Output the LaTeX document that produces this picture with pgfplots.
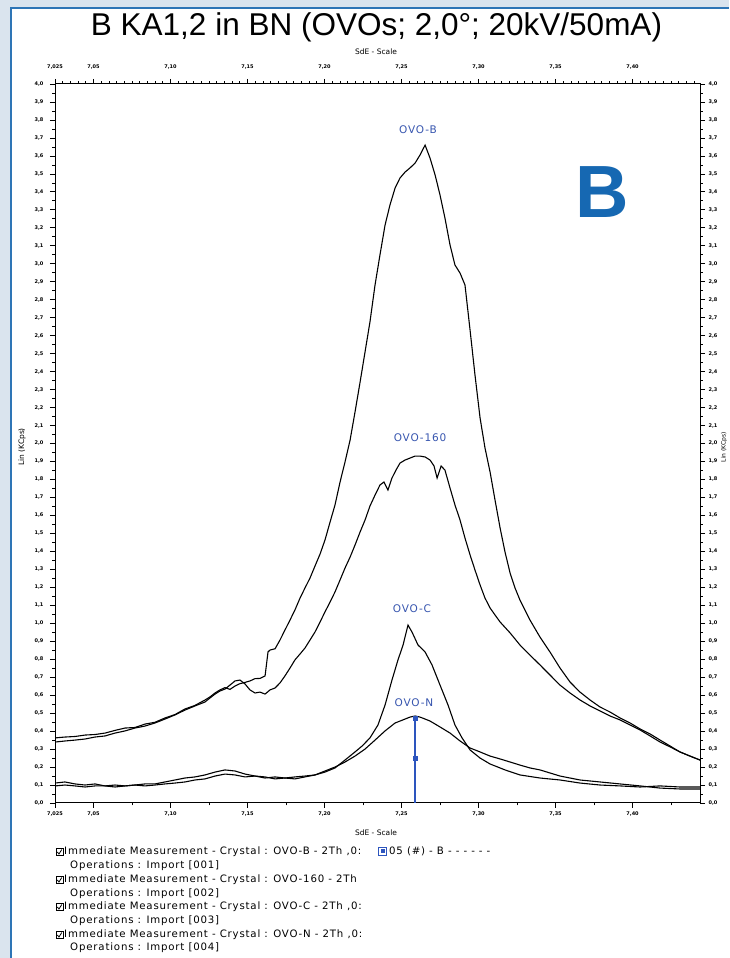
\documentclass[border=0pt]{standalone}
\usepackage{fontspec}
\setmainfont{DejaVu Sans}
\newfontfamily\lib{Liberation Sans}
\newfontfamily\legfont[LetterSpace=8]{DejaVu Sans}
\newfontfamily\lblfont[LetterSpace=8]{DejaVu Sans}
\usepackage{pgfplots}
\pgfplotsset{compat=1.18}
\definecolor{frameblue}{RGB}{46,117,182}
\definecolor{framelight}{RGB}{218,228,238}
\definecolor{bigB}{RGB}{22,104,178}
\definecolor{lblblue}{RGB}{55,85,175}
\definecolor{stickblue}{RGB}{45,85,190}
\newcommand{\tlf}{\fontsize{5}{5.5}\selectfont\bfseries}

\pgfplotstableread{
x y
7.0250 0.362
7.0315 0.367
7.0380 0.370
7.0445 0.378
7.0510 0.381
7.0575 0.389
7.0640 0.404
7.0705 0.417
7.0769 0.420
7.0834 0.439
7.0899 0.449
7.0964 0.473
7.1029 0.492
7.1094 0.523
7.1159 0.543
7.1224 0.573
7.1256 0.590
7.1289 0.612
7.1321 0.629
7.1354 0.642
7.1386 0.632
7.1419 0.651
7.1451 0.664
7.1484 0.671
7.1516 0.679
7.1549 0.692
7.1581 0.693
7.1614 0.707
7.1633 0.840
7.1646 0.851
7.1679 0.858
7.1711 0.907
7.1743 0.962
7.1776 1.018
7.1808 1.074
7.1841 1.140
7.1873 1.196
7.1906 1.252
7.1938 1.318
7.1971 1.385
7.2003 1.463
7.2036 1.563
7.2068 1.658
7.2101 1.786
7.2133 1.897
7.2166 2.019
7.2198 2.175
7.2231 2.342
7.2263 2.509
7.2295 2.676
7.2328 2.882
7.2360 3.049
7.2393 3.215
7.2425 3.327
7.2458 3.421
7.2490 3.477
7.2523 3.510
7.2555 3.533
7.2588 3.560
7.2620 3.605
7.2653 3.660
7.2685 3.588
7.2718 3.494
7.2750 3.382
7.2782 3.254
7.2815 3.104
7.2847 2.993
7.2880 2.948
7.2912 2.882
7.2945 2.631
7.2977 2.381
7.3010 2.142
7.3042 1.975
7.3075 1.841
7.3107 1.686
7.3140 1.530
7.3172 1.396
7.3205 1.279
7.3237 1.196
7.3269 1.129
7.3334 1.018
7.3399 0.923
7.3464 0.840
7.3529 0.751
7.3594 0.673
7.3659 0.617
7.3724 0.573
7.3789 0.534
7.3854 0.506
7.3919 0.473
7.3984 0.445
7.4049 0.412
7.4114 0.384
7.4179 0.350
7.4244 0.317
7.4308 0.284
7.4373 0.261
7.4438 0.239
}\ovoB

\pgfplotstableread{
x y
7.0250 0.339
7.0315 0.345
7.0380 0.350
7.0445 0.356
7.0510 0.367
7.0575 0.373
7.0640 0.389
7.0705 0.401
7.0769 0.417
7.0834 0.428
7.0899 0.445
7.0964 0.467
7.1029 0.490
7.1094 0.517
7.1159 0.540
7.1224 0.562
7.1256 0.584
7.1289 0.606
7.1321 0.623
7.1354 0.634
7.1386 0.656
7.1419 0.679
7.1451 0.684
7.1484 0.662
7.1516 0.629
7.1549 0.612
7.1581 0.617
7.1614 0.606
7.1646 0.629
7.1679 0.640
7.1711 0.668
7.1743 0.707
7.1776 0.751
7.1808 0.796
7.1841 0.829
7.1873 0.862
7.1906 0.907
7.1938 0.951
7.1971 1.007
7.2003 1.063
7.2036 1.118
7.2068 1.174
7.2101 1.241
7.2133 1.307
7.2166 1.368
7.2198 1.435
7.2231 1.508
7.2263 1.574
7.2295 1.652
7.2328 1.713
7.2360 1.769
7.2386 1.786
7.2412 1.741
7.2438 1.808
7.2464 1.852
7.2490 1.891
7.2523 1.908
7.2555 1.919
7.2588 1.930
7.2620 1.930
7.2653 1.925
7.2685 1.908
7.2711 1.875
7.2731 1.808
7.2757 1.875
7.2782 1.852
7.2815 1.752
7.2847 1.658
7.2880 1.574
7.2912 1.474
7.2945 1.380
7.2977 1.296
7.3010 1.213
7.3042 1.140
7.3075 1.085
7.3107 1.046
7.3140 1.007
7.3205 0.946
7.3269 0.879
7.3334 0.823
7.3399 0.768
7.3464 0.712
7.3529 0.656
7.3594 0.612
7.3659 0.573
7.3724 0.540
7.3789 0.512
7.3854 0.484
7.3919 0.462
7.3984 0.434
7.4049 0.406
7.4114 0.373
7.4179 0.339
7.4244 0.312
7.4308 0.284
7.4373 0.261
7.4438 0.239
}\ovoCLX

\pgfplotstableread{
x y
7.0250 0.111
7.0315 0.117
7.0380 0.106
7.0445 0.100
7.0510 0.106
7.0575 0.095
7.0640 0.100
7.0705 0.095
7.0769 0.100
7.0834 0.095
7.0899 0.100
7.0964 0.106
7.1029 0.111
7.1094 0.117
7.1159 0.128
7.1224 0.134
7.1289 0.150
7.1354 0.161
7.1419 0.156
7.1484 0.145
7.1549 0.150
7.1614 0.139
7.1679 0.145
7.1743 0.139
7.1808 0.145
7.1873 0.150
7.1938 0.156
7.2003 0.172
7.2068 0.195
7.2133 0.239
7.2198 0.284
7.2244 0.317
7.2295 0.362
7.2347 0.434
7.2393 0.545
7.2438 0.684
7.2477 0.796
7.2510 0.879
7.2542 0.990
7.2568 0.951
7.2607 0.879
7.2653 0.840
7.2698 0.768
7.2750 0.656
7.2802 0.545
7.2847 0.434
7.2893 0.362
7.2945 0.295
7.3010 0.250
7.3075 0.217
7.3172 0.184
7.3269 0.156
7.3399 0.139
7.3529 0.128
7.3659 0.111
7.3789 0.100
7.3919 0.095
7.4049 0.089
7.4179 0.095
7.4308 0.089
7.4438 0.089
}\ovoC

\pgfplotstableread{
x y
7.0250 0.095
7.0315 0.100
7.0380 0.095
7.0445 0.089
7.0510 0.095
7.0575 0.095
7.0640 0.089
7.0705 0.095
7.0769 0.100
7.0834 0.106
7.0899 0.106
7.0964 0.117
7.1029 0.128
7.1094 0.139
7.1159 0.145
7.1224 0.156
7.1289 0.172
7.1354 0.184
7.1419 0.178
7.1484 0.161
7.1549 0.150
7.1614 0.145
7.1679 0.134
7.1743 0.139
7.1808 0.134
7.1873 0.145
7.1938 0.156
7.2003 0.178
7.2068 0.200
7.2133 0.228
7.2198 0.261
7.2263 0.300
7.2328 0.350
7.2393 0.401
7.2458 0.445
7.2523 0.467
7.2555 0.478
7.2588 0.484
7.2620 0.478
7.2653 0.467
7.2685 0.456
7.2750 0.423
7.2815 0.389
7.2880 0.345
7.2945 0.306
7.3010 0.284
7.3075 0.261
7.3140 0.245
7.3205 0.228
7.3269 0.211
7.3334 0.195
7.3399 0.184
7.3464 0.167
7.3529 0.150
7.3594 0.139
7.3659 0.128
7.3789 0.117
7.3919 0.106
7.4049 0.095
7.4179 0.083
7.4308 0.078
7.4438 0.078
}\ovoN

\begin{document}
\begin{tikzpicture}
\useasboundingbox (0pt,0pt) rectangle (729pt,958pt);
\fill[white] (0pt,0pt) rectangle (729pt,958pt);
\fill[framelight] (0pt,0pt) rectangle (9.5pt,958pt);
\fill[framelight] (0pt,951pt) rectangle (729pt,958pt);
\fill[frameblue] (9.5pt,0pt) rectangle (11.5pt,951pt);
\fill[frameblue] (9.5pt,949pt) rectangle (729pt,951pt);

% top/right axis (ticks and labels only)
\begin{axis}[
  at={(55pt,155pt)}, anchor=south west, scale only axis,
  width=645pt, height=719pt,
  xmin=7.025, xmax=7.4438, ymin=0, ymax=4,
  axis line style={line width=1pt},
  xtick pos=right, ytick pos=right,
  xticklabel pos=right, yticklabel pos=right,
  tick align=outside,
  major tick length=5pt, minor tick length=2.5pt,
  tick style={black, line width=0.7pt},
  xtick={7.025,7.05,7.10,7.15,7.20,7.25,7.30,7.35,7.40},
  xticklabels={{7,025},{7,05},{7,10},{7,15},{7,20},{7,25},{7,30},{7,35},{7,40}},
  minor xtick={7.030,7.035,...,7.4430},
  ytick={0,0.1,...,4.05},
  minor y tick num=1,
  ticklabel style={font=\tlf},
  xticklabel style={yshift=6pt},
  yticklabel style={/pgf/number format/.cd, use comma, fixed, fixed zerofill, precision=1, assume math mode=true},
]
\end{axis}

\begin{axis}[
  at={(55pt,155pt)}, anchor=south west, scale only axis,
  width=645pt, height=719pt,
  xmin=7.025, xmax=7.4438, ymin=0, ymax=4,
  axis line style={line width=1pt},
  xtick pos=left, ytick pos=left,
  xticklabel pos=left, yticklabel pos=left,
  tick align=outside,
  major tick length=5pt, minor tick length=2.5pt,
  tick style={black, line width=0.7pt},
  xtick={7.025,7.05,7.10,7.15,7.20,7.25,7.30,7.35,7.40},
  xticklabels={{7,025},{7,05},{7,10},{7,15},{7,20},{7,25},{7,30},{7,35},{7,40}},
  minor xtick={7.075,7.125,7.175,7.225,7.275,7.325,7.375,7.425},
  ytick={0,0.1,...,4.05},
  minor y tick num=1,
  ticklabel style={font=\tlf},
  yticklabel style={xshift=-3pt, /pgf/number format/.cd, use comma, fixed, fixed zerofill, precision=1, assume math mode=true},
  clip=true,
]
\addplot[black, line width=1.1pt] table[x=x,y=y] {\ovoB};
\addplot[black, line width=1.1pt] table[x=x,y=y] {\ovoCLX};
\addplot[black, line width=1.1pt] table[x=x,y=y] {\ovoC};
\addplot[black, line width=1.1pt] table[x=x,y=y] {\ovoN};
\addplot[stickblue, line width=1.2pt] coordinates {(7.2588,0) (7.2588,0.473)};
\addplot[stickblue, only marks, mark=square*, mark size=1.8pt] coordinates {(7.2588,0.250) (7.2588,0.473)};
\node[lblblue, font=\lblfont\fontsize{10.5}{12}\selectfont] at (axis cs:7.2607,3.744) {OVO-B};
\node[lblblue, font=\lblfont\fontsize{10.5}{12}\selectfont] at (axis cs:7.2620,2.030) {OVO-160};
\node[lblblue, font=\lblfont\fontsize{10.5}{12}\selectfont] at (axis cs:7.2568,1.079) {OVO-C};
\node[lblblue, font=\lblfont\fontsize{10.5}{12}\selectfont] at (axis cs:7.2581,0.556) {OVO-N};
\end{axis}

% title and labels
\node[anchor=base, font=\lib\fontsize{31.5}{36}\selectfont] at (376.5pt,922pt) {B KA1,2 in BN (OVOs; 2,0°; 20kV/50mA)};
\node[font=\fontsize{7.5}{9}\selectfont] at (376pt,906pt) {SdE - Scale};
\node[font=\fontsize{7.5}{9}\selectfont] at (376pt,125pt) {SdE - Scale};
\node[rotate=90, font=\fontsize{7.5}{9}\selectfont] at (22pt,511pt) {Lin (KCps)};
\node[rotate=90, inner sep=0.5pt, font=\fontsize{6}{7}\selectfont] at (724pt,511pt) {Lin (KCps)};
\node[anchor=base, bigB, font=\lib\bfseries\fontsize{74}{80}\selectfont] at (602pt,740pt) {B};

% legend
\foreach \yy in {103,75,48,20}{
  \draw[black, line width=0.6pt] (56pt,\yy pt-0.5pt) rectangle (63pt,\yy pt+6.5pt);
  \draw[black, line width=0.8pt] (57.3pt,\yy pt+3pt) -- (59pt,\yy pt+1pt) -- (61.8pt,\yy pt+5.5pt);
}
\begin{scope}[every node/.style={anchor=base west, inner sep=0pt, font=\legfont\fontsize{10.2}{11}\selectfont}]
\node at (64pt,103pt) {Immediate Measurement - Crystal : OVO-B - 2Th ,0:};
\node at (70pt,89pt) {Operations : Import [001]};
\node at (64pt,75pt) {Immediate Measurement - Crystal : OVO-160 - 2Th};
\node at (70pt,61pt) {Operations : Import [002]};
\node at (64pt,48pt) {Immediate Measurement - Crystal : OVO-C - 2Th ,0:};
\node at (70pt,34pt) {Operations : Import [003]};
\node at (64pt,20pt) {Immediate Measurement - Crystal : OVO-N - 2Th ,0:};
\node at (70pt,7pt) {Operations : Import [004]};
\node at (389pt,103pt) {05 (\#) - B - - - - - -};
\end{scope}
\draw[stickblue, line width=0.8pt] (378.5pt,102.5pt) rectangle (386.5pt,110.5pt);
\fill[stickblue] (380.5pt,104.5pt) rectangle (384.5pt,108.5pt);
\end{tikzpicture}
\end{document}
